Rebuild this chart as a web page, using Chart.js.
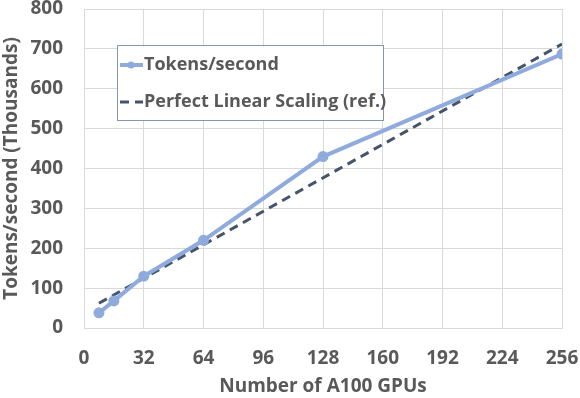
<!DOCTYPE html>
<html>
<head>
<meta charset="utf-8">
<script src="https://cdn.jsdelivr.net/npm/chart.js@4.4.1/dist/chart.umd.min.js"></script>
<style>
  html, body { margin: 0; padding: 0; background: #fff; }
  #wrap { width: 580px; height: 398px; position: relative; }
</style>
</head>
<body>
<div id="wrap"><canvas id="grafico"></canvas></div>
<script>
// --- dados ---
const gpus = [8, 16, 32, 64, 128, 256];
const tokensPorSegundo = [38, 68, 130, 220, 430, 687];
const refGpus = [8, 256];
const refEscala = [62, 712];
const xTicks = [0, 32, 64, 96, 128, 160, 192, 224, 256];

const corTexto = '#595959';
const fonte = "'Open Sans', 'Noto Sans', sans-serif";

// legenda desenhada dentro da área do gráfico
const legendaInterna = {
    id: 'legendaInterna',
    afterDraw(chart) {
        const ctx = chart.ctx;
        const x = 117, y = 45, w = 266, h = 75;
        ctx.save();
        ctx.fillStyle = '#fff';
        ctx.fillRect(x, y, w, h);
        ctx.strokeStyle = '#8497b0';
        ctx.lineWidth = 1;
        ctx.strokeRect(x + 0.5, y + 0.5, w, h);
        ctx.font = 'bold 18px ' + fonte;
        ctx.textBaseline = 'middle';
        chart.data.datasets.forEach((ds, i) => {
            const cy = i === 0 ? 65 : 102;
            ctx.beginPath();
            ctx.strokeStyle = ds.borderColor;
            ctx.lineWidth = ds.borderWidth;
            ctx.setLineDash(ds.borderDash || []);
            ctx.moveTo(120, cy);
            ctx.lineTo(143, cy);
            ctx.stroke();
            ctx.setLineDash([]);
            if (ds.pointRadius) {
                ctx.beginPath();
                ctx.fillStyle = ds.borderColor;
                ctx.arc(131, cy, 3.5, 0, Math.PI * 2);
                ctx.fill();
            }
            ctx.fillStyle = corTexto;
            ctx.fillText(ds.label, 144, cy);
        });
        ctx.restore();
    }
};

new Chart(document.getElementById('grafico'), {
    type: 'scatter',
    data: {
        datasets: [{
            label: 'Tokens/second',
            data: gpus.map((g, i) => ({ x: g, y: tokensPorSegundo[i] })),
            showLine: true,
            borderColor: '#8faadc',
            backgroundColor: '#8faadc',
            borderWidth: 4,
            pointRadius: 3.5,
            pointHoverRadius: 3.5
        }, {
            label: 'Perfect Linear Scaling (ref.)',
            data: refGpus.map((g, i) => ({ x: g, y: refEscala[i] })),
            showLine: true,
            borderColor: '#44546a',
            backgroundColor: '#44546a',
            borderWidth: 3,
            borderDash: [9, 6],
            pointRadius: 0
        }]
    },
    options: {
        responsive: true,
        maintainAspectRatio: false,
        animation: false,
        layout: { padding: { top: 9, right: 18, left: 0, bottom: 0 } },
        plugins: {
            legend: { display: false },
            tooltip: { enabled: false }
        },
        scales: {
            x: {
                type: 'linear',
                min: 0,
                max: 256,
                afterBuildTicks: scale => { scale.ticks = xTicks.map(v => ({ value: v })); },
                afterFit: scale => {
                    scale.height = 70;
                    scale.paddingLeft = 0;
                    scale.paddingRight = 0;
                },
                grid: { color: '#d9d9d9', drawTicks: false },
                border: { color: '#d9d9d9' },
                ticks: { color: corTexto, font: { family: fonte, size: 19, weight: 'bold' }, padding: 19, maxRotation: 0 },
                title: { display: true, text: 'Number of A100 GPUs', color: corTexto,
                         font: { family: fonte, size: 19, weight: 'bold' }, padding: { top: 0, bottom: 0 } }
            },
            y: {
                min: 0,
                max: 800,
                afterFit: scale => {
                    scale.width = 84;
                    scale.paddingTop = 0;
                    scale.paddingBottom = 0;
                },
                grid: { color: '#d9d9d9', drawTicks: false },
                border: { color: '#d9d9d9' },
                ticks: { stepSize: 100, color: corTexto, font: { family: fonte, size: 19, weight: 'bold' }, padding: 21 },
                title: { display: true, text: 'Tokens/second (Thousands)', color: corTexto,
                         font: { family: fonte, size: 19, weight: 'bold' }, padding: { top: 0, bottom: 0 } }
            }
        }
    },
    plugins: [legendaInterna]
});
</script>
</body>
</html>
